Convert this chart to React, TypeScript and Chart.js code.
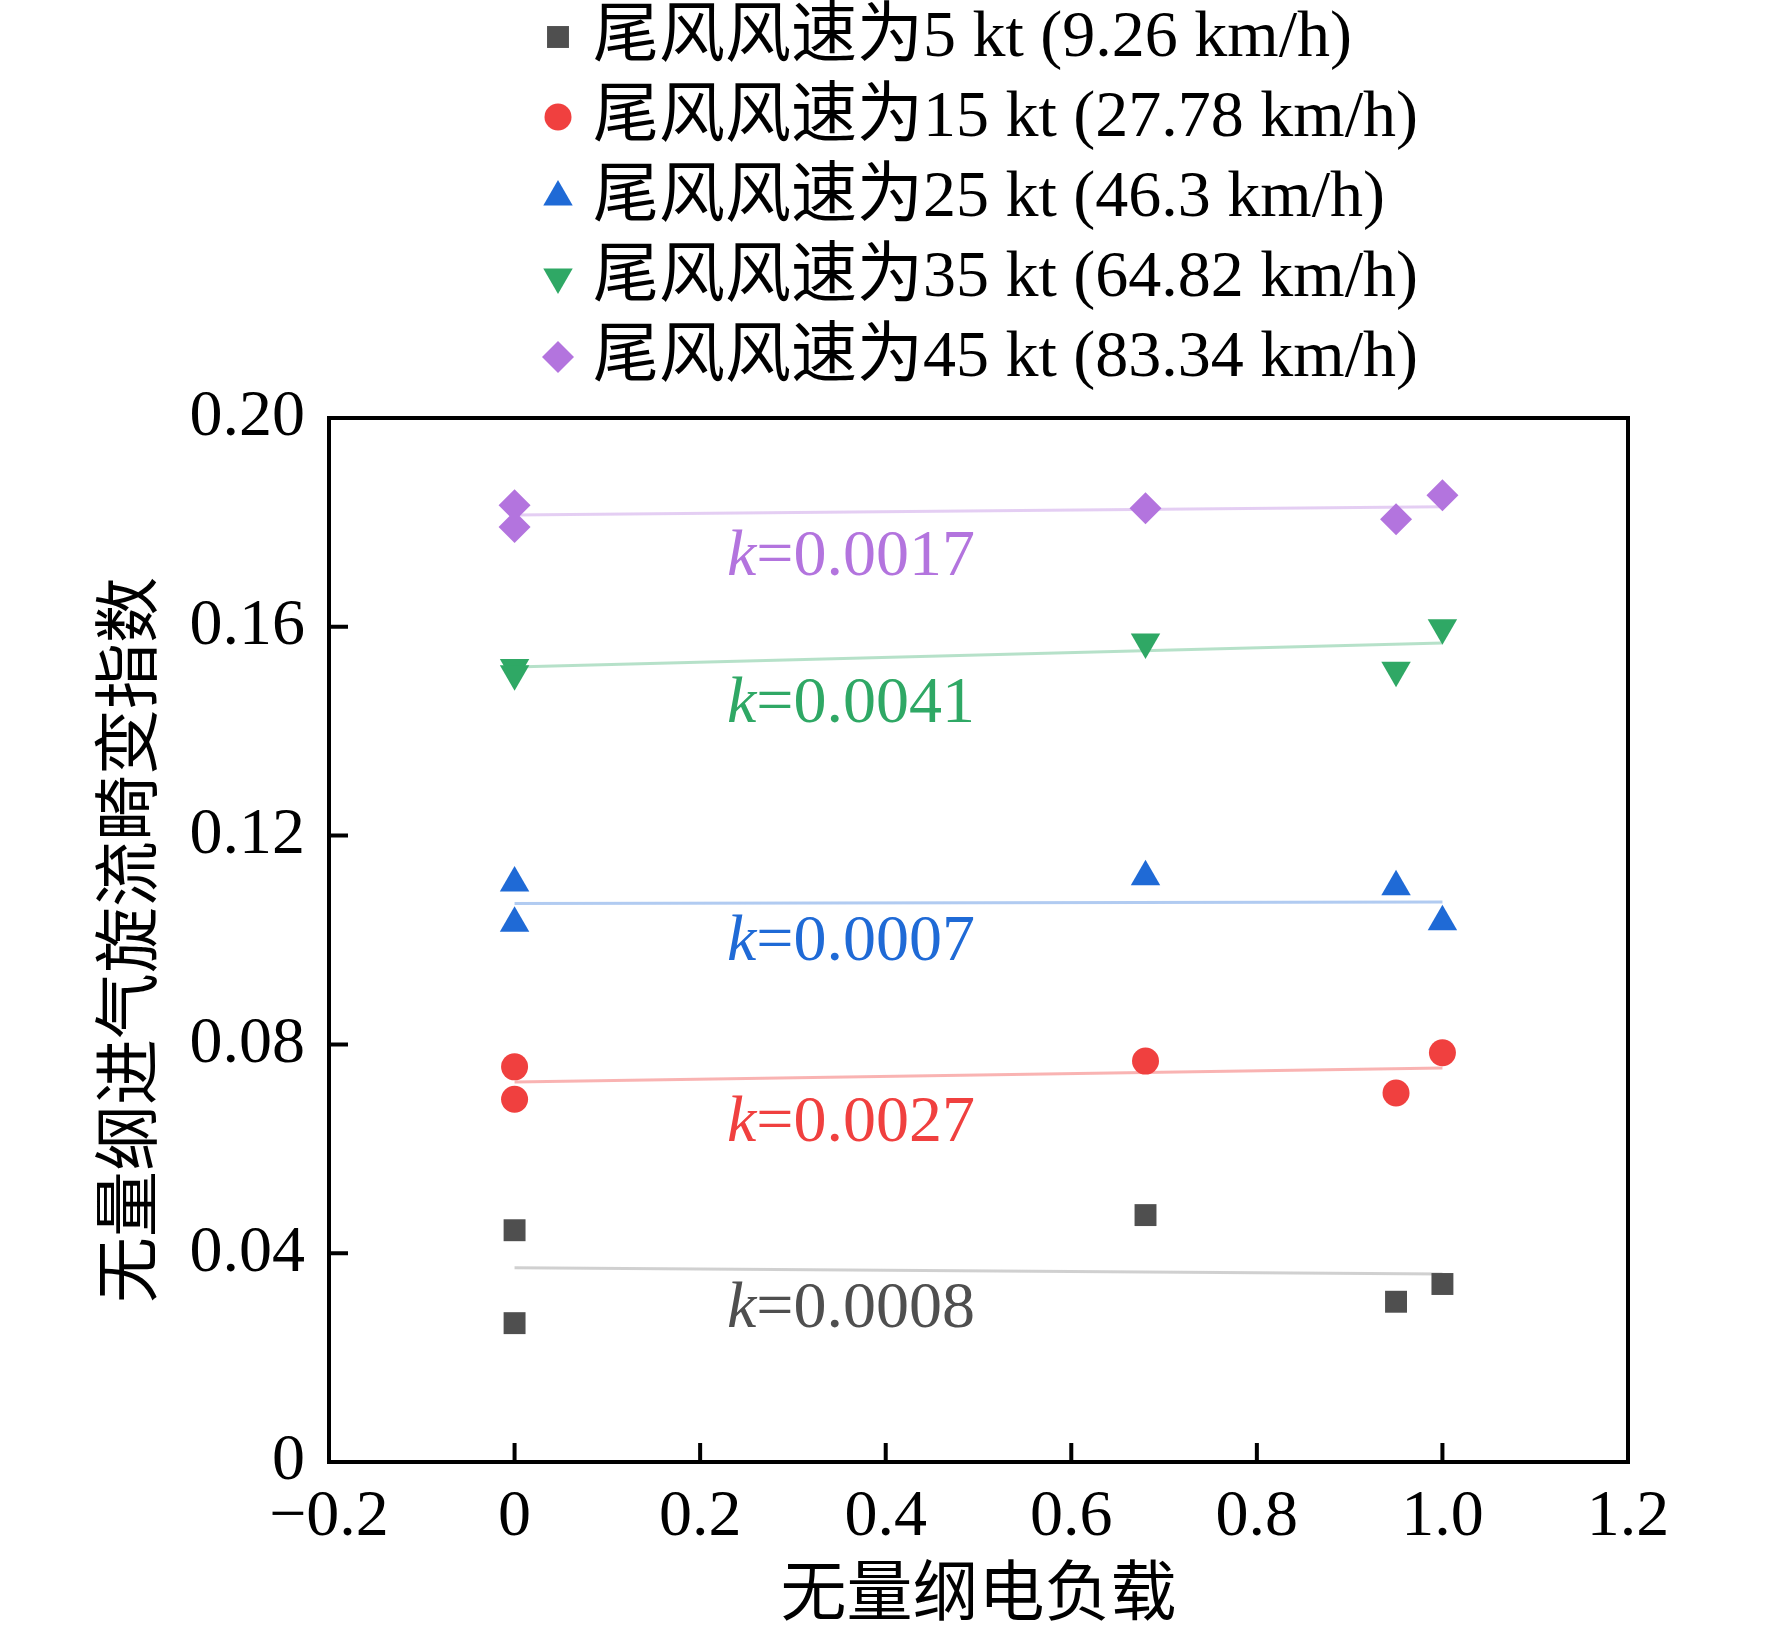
import React, { useEffect, useRef } from 'react';
import { Chart, registerables } from 'chart.js';
import { drawPoint } from 'chart.js/helpers';

Chart.register(...registerables);

const SERIF = "'Liberation Serif', 'Times New Roman', 'Noto Sans CJK SC', serif";

// Measured points: dimensionless electric load vs. swirl distortion index
const loadX = [0, 0, 0.68, 0.95, 1.0];
const swirl5 = [0.0444, 0.0266, 0.0473, 0.0307, 0.0341];
const swirl15 = [0.0757, 0.0695, 0.0768, 0.0707, 0.0784];
const swirl25 = [0.1109, 0.1032, 0.1121, 0.1102, 0.1035];
const swirl35 = [0.1522, 0.151, 0.1571, 0.1517, 0.1598];
const swirl45 = [0.1833, 0.1791, 0.1827, 0.1806, 0.1852];

// Fitted lines (end points)
const fitX = [0, 1.0];
const fit5 = [0.0372, 0.036];
const fit15 = [0.0728, 0.0755];
const fit25 = [0.107, 0.1073];
const fit35 = [0.1523, 0.1569];
const fit45 = [0.1814, 0.183];

const seriesLabels = [
  '尾风风速为5 kt (9.26 km/h)',
  '尾风风速为15 kt (27.78 km/h)',
  '尾风风速为25 kt (46.3 km/h)',
  '尾风风速为35 kt (64.82 km/h)',
  '尾风风速为45 kt (83.34 km/h)',
];
const slopeLabels = ['0.0008', '0.0027', '0.0007', '0.0041', '0.0017'];
const slopeLabelX = 0.229;
const slopeLabelY = [0.0292, 0.0648, 0.0995, 0.145, 0.1733];

const xTicks = [-0.2, 0, 0.2, 0.4, 0.6, 0.8, 1.0, 1.2];
const xTickLabels = ['−0.2', '0', '0.2', '0.4', '0.6', '0.8', '1.0', '1.2'];
const yTicks = [0, 0.04, 0.08, 0.12, 0.16, 0.2];
const yTickLabels = ['0', '0.04', '0.08', '0.12', '0.16', '0.20'];

const colors = ['#4f4f4f', '#f0403f', '#1f6ad6', '#2fa865', '#b374de'];
const lineColors = [
  'rgba(120,120,120,0.35)',
  'rgba(240,64,63,0.4)',
  'rgba(31,106,214,0.35)',
  'rgba(47,168,101,0.35)',
  'rgba(179,116,222,0.35)',
];
const pointStyles = ['rect', 'circle', 'triangle', 'triangle', 'rectRot'] as const;
const pointRotations = [0, 0, 0, 180, 0];
const pointRadii = [15.5, 13.5, 17, 17, 16];

const seriesValues = [swirl5, swirl15, swirl25, swirl35, swirl45];
const fitValues = [fit5, fit15, fit25, fit35, fit45];

const framePlugin = {
  id: 'frameAndNotes',
  afterDraw(chart: Chart) {
    const { ctx, chartArea: a, scales } = chart;
    const xs = scales.x;
    const ys = scales.y;
    ctx.save();

    // inward tick marks
    ctx.strokeStyle = '#000';
    ctx.lineWidth = 4;
    ctx.beginPath();
    xTicks.forEach((v) => {
      const px = xs.getPixelForValue(v);
      if (px <= a.left + 2 || px >= a.right - 2) return;
      ctx.moveTo(px, a.bottom);
      ctx.lineTo(px, a.bottom - 19);
    });
    yTicks.forEach((v) => {
      const py = ys.getPixelForValue(v);
      if (py >= a.bottom - 2 || py <= a.top + 2) return;
      ctx.moveTo(a.left, py);
      ctx.lineTo(a.left + 19, py);
    });
    ctx.stroke();
    ctx.strokeRect(a.left, a.top, a.right - a.left, a.bottom - a.top);

    // slope notes
    ctx.textBaseline = 'middle';
    ctx.textAlign = 'left';
    slopeLabels.forEach((txt, i) => {
      const px = xs.getPixelForValue(slopeLabelX);
      const py = ys.getPixelForValue(slopeLabelY[i]);
      ctx.fillStyle = colors[i];
      ctx.font = `italic 66px ${SERIF}`;
      ctx.fillText('k', px, py);
      const kw = ctx.measureText('k').width;
      ctx.font = `66px ${SERIF}`;
      ctx.fillText('=' + txt, px + kw, py);
    });

    // legend
    seriesLabels.forEach((label, i) => {
      const y = 37 + i * 80;
      ctx.fillStyle = colors[i];
      drawPoint(
        ctx,
        { pointStyle: pointStyles[i], rotation: pointRotations[i], radius: pointRadii[i], borderWidth: 0 } as any,
        558,
        y
      );
      ctx.fillStyle = '#000';
      ctx.font = `66px ${SERIF}`;
      ctx.fillText(label, 593, y + 2);
    });

    ctx.restore();
  },
};

const App: React.FC = () => {
  const canvasRef = useRef<HTMLCanvasElement>(null);
  const chartRef = useRef<Chart | null>(null);

  useEffect(() => {
    if (!canvasRef.current) return;
    const ctx = canvasRef.current.getContext('2d');
    if (!ctx) return;

    const fitSets = fitValues.map((vals, i) => ({
      label: 'fit' + i,
      data: fitX.map((x, j) => ({ x, y: vals[j] })),
      showLine: true,
      borderColor: lineColors[i],
      borderWidth: 3,
      pointRadius: 0,
      order: 2,
    }));

    const pointSets = seriesValues.map((vals, i) => ({
      label: seriesLabels[i],
      data: loadX.map((x, j) => ({ x, y: vals[j] })),
      showLine: false,
      backgroundColor: colors[i],
      borderWidth: 0,
      pointStyle: pointStyles[i],
      pointRotation: pointRotations[i],
      pointRadius: pointRadii[i],
      order: 1,
    }));

    chartRef.current = new Chart(ctx, {
      type: 'scatter',
      data: { datasets: [...fitSets, ...pointSets] as any },
      options: {
        responsive: false,
        devicePixelRatio: 1,
        animation: false,
        layout: { padding: { top: 418, right: 144, left: 0, bottom: 0 } },
        plugins: {
          legend: { display: false },
          tooltip: { enabled: false },
        },
        scales: {
          x: {
            type: 'linear',
            min: -0.2,
            max: 1.2,
            afterBuildTicks: (scale) => {
              scale.ticks = xTicks.map((value) => ({ value }));
            },
            afterFit: (scale) => {
              scale.height = 172;
            },
            grid: { display: false, drawTicks: false },
            border: { display: false },
            ticks: {
              padding: 16,
              color: '#000',
              font: { family: SERIF, size: 66 },
              maxRotation: 0,
              callback: (_v, index) => xTickLabels[index],
            },
            title: {
              display: true,
              text: '无量纲电负载',
              color: '#000',
              font: { family: SERIF, size: 66, lineHeight: 1.1 },
              padding: { top: 0, bottom: 0 },
            },
          },
          y: {
            type: 'linear',
            min: 0,
            max: 0.2,
            afterBuildTicks: (scale) => {
              scale.ticks = yTicks.map((value) => ({ value }));
            },
            afterFit: (scale) => {
              scale.width = 329;
            },
            grid: { display: false, drawTicks: false },
            border: { display: false },
            ticks: {
              padding: 24,
              color: '#000',
              font: { family: SERIF, size: 66 },
              callback: (_v, index) => yTickLabels[index],
            },
            title: {
              display: true,
              text: '无量纲进气旋流畸变指数',
              color: '#000',
              font: { family: SERIF, size: 66, lineHeight: 1.1 },
              padding: { top: 97, bottom: 0 },
            },
          },
        },
      },
      plugins: [framePlugin],
    });

    return () => {
      if (chartRef.current) {
        chartRef.current.destroy();
        chartRef.current = null;
      }
    };
  }, []);

  return (
    <div style={{ position: 'absolute', left: 0, top: 0, width: 1772, height: 1634, background: '#fff' }}>
      <canvas ref={canvasRef} width={1772} height={1634} style={{ width: 1772, height: 1634 }}></canvas>
    </div>
  );
};

export default App;
